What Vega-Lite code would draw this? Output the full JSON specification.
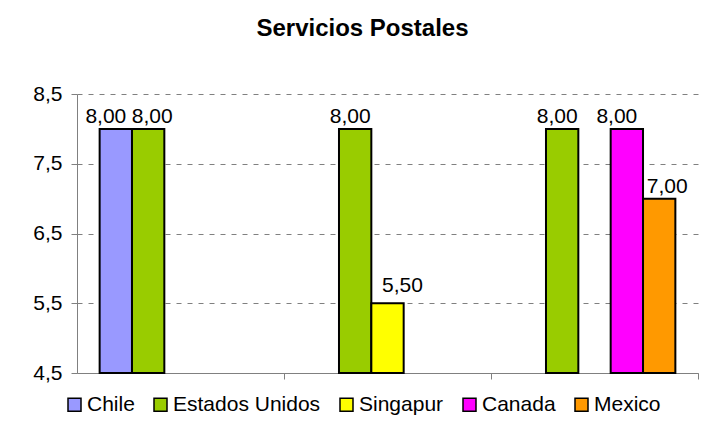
{
  "$schema": "https://vega.github.io/schema/vega-lite/v6.json",
  "autosize": "none",
  "width": 621,
  "height": 279,
  "padding": {"left": 77, "top": 94, "right": 5, "bottom": 54},
  "background": "white",
  "title": {
    "text": "Servicios Postales",
    "font": "Liberation Sans",
    "fontSize": 24,
    "fontWeight": "bold",
    "color": "black",
    "anchor": "middle",
    "dx": -25,
    "baseline": "alphabetic",
    "offset": 23
  },
  "config": {
    "locale": {"number": {"decimal": ",", "thousands": ".", "grouping": [3], "currency": ["", ""]}},
    "view": {"stroke": null},
    "font": "Liberation Sans",
    "text": {"baseline": "alphabetic", "fontSize": 21, "font": "Liberation Sans", "color": "black"}
  },
  "data": {
    "values": [
      {"grupo": "1", "pais": "Chile", "valor": 8.0},
      {"grupo": "1", "pais": "Estados Unidos", "valor": 8.0},
      {"grupo": "2", "pais": "Estados Unidos", "valor": 8.0},
      {"grupo": "2", "pais": "Singapur", "valor": 5.5},
      {"grupo": "3", "pais": "Estados Unidos", "valor": 8.0},
      {"grupo": "3", "pais": "Canada", "valor": 8.0},
      {"grupo": "3", "pais": "Mexico", "valor": 7.0}
    ]
  },
  "encoding": {
    "x": {
      "field": "grupo",
      "type": "nominal",
      "scale": {"domain": ["1", "2", "3"], "paddingInner": 0, "paddingOuter": 0},
      "axis": {
        "title": null,
        "labels": false,
        "bandPosition": 1,
        "domainColor": "#808080",
        "tickColor": "#808080",
        "tickSize": 6,
        "grid": false
      }
    },
    "xOffset": {
      "field": "pais",
      "type": "nominal",
      "scale": {"domain": ["Chile", "Estados Unidos", "Singapur", "Canada", "Mexico"], "paddingInner": 0, "paddingOuter": 0.7}
    },
    "y": {
      "field": "valor",
      "type": "quantitative",
      "scale": {"domain": [4.5, 8.5], "zero": false, "nice": false},
      "axis": {
        "title": null,
        "values": [4.5, 5.5, 6.5, 7.5, 8.5],
        "format": ".1f",
        "labelFont": "Liberation Sans",
        "labelFontSize": 21,
        "labelColor": "black",
        "labelPadding": 9,
        "tickSize": 6,
        "tickColor": "#808080",
        "domainColor": "#808080",
        "gridColor": "#808080",
        "gridDash": [5, 6],
        "grid": true
      }
    },
    "text": {"field": "valor", "type": "quantitative", "format": ".2f"}
  },
  "layer": [
    {
      "mark": {"type": "bar", "stroke": "black", "strokeWidth": 2},
      "encoding": {
        "text": null,
        "y2": {"datum": 4.5},
        "color": {
          "field": "pais",
          "type": "nominal",
          "scale": {
            "domain": ["Chile", "Estados Unidos", "Singapur", "Canada", "Mexico"],
            "range": ["#9999FF", "#99CC00", "#FFFF00", "#FF00FF", "#FF9900"]
          },
          "legend": {
            "title": null,
            "orient": "none",
            "direction": "horizontal",
            "legendX": -13,
            "legendY": 300,
            "symbolType": "square",
            "symbolSize": 169,
            "symbolStrokeColor": "black",
            "symbolStrokeWidth": 1.5,
            "symbolOpacity": 1,
            "labelFont": "Liberation Sans",
            "labelFontSize": 21,
            "labelColor": "black",
            "labelOffset": 2,
            "columnPadding": 15,
            "labelLimit": 300
          }
        }
      }
    },
    {
      "transform": [{"filter": "datum.pais == 'Chile' || datum.pais == 'Canada'"}],
      "mark": {"type": "text", "dx": -10, "dy": -6}
    },
    {
      "transform": [{"filter": "datum.pais == 'Estados Unidos' && datum.grupo == '1'"}],
      "mark": {"type": "text", "dx": 4, "dy": -6}
    },
    {
      "transform": [{"filter": "datum.pais == 'Estados Unidos' && datum.grupo != '1'"}],
      "mark": {"type": "text", "dx": -5, "dy": -6}
    },
    {
      "transform": [{"filter": "datum.pais == 'Singapur'"}],
      "mark": {"type": "text", "dx": 15, "dy": -11}
    },
    {
      "transform": [{"filter": "datum.pais == 'Mexico'"}],
      "mark": {"type": "text", "dx": 8, "dy": -6}
    }
  ]
}
